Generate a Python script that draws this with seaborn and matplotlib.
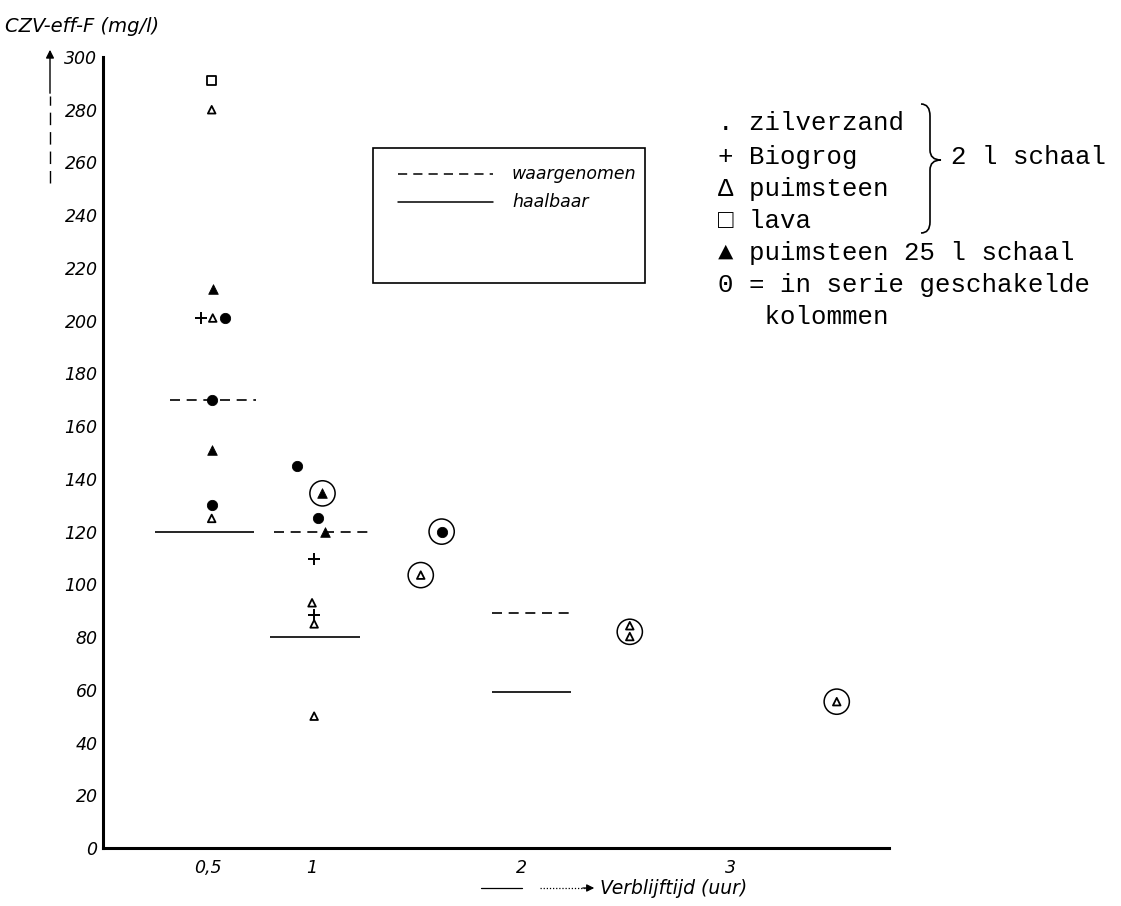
import matplotlib
matplotlib.use("Agg")
import matplotlib.pyplot as plt
import seaborn as sns
from matplotlib.lines import Line2D
from matplotlib.patches import Rectangle, PathPatch, FancyArrowPatch
from matplotlib.path import Path

# values (x = verblijftijd in uur, y = CZV mg/l)
zilverzand_x = [0.52, 0.585, 0.52, 0.93, 1.03, 1.62]
zilverzand_y = [170, 201, 130, 145, 125, 120]
biogrog_x = [0.47, 1.01, 1.01]
biogrog_y = [201, 109.5, 88.5]
puimsteen_x = [0.52, 0.525, 0.52, 1.0, 1.01, 1.01, 1.52, 2.52, 2.52, 3.51]
puimsteen_y = [280, 201, 125, 93, 85, 50, 103.5, 84.3, 80.2, 55.5]
lava_x = [0.52]
lava_y = [291]
puim25_x = [0.525, 0.52, 1.06, 1.05]
puim25_y = [212, 151, 120, 134.5]
serie_x = [1.05, 1.62, 1.52, 2.52, 3.51]
serie_y = [134.5, 120, 103.5, 82, 55.5]

# horizontal level lines
waargenomen_y = [170, 120, 89]
waargenomen_x0 = [0.32, 0.82, 1.86]
waargenomen_x1 = [0.73, 1.27, 2.24]
haalbaar_y = [120, 80, 59]
haalbaar_x0 = [0.25, 0.80, 1.86]
haalbaar_x1 = [0.72, 1.23, 2.24]

x_ticks = [0.5, 1, 2, 3]
x_ticklabels = ["0,5", "1", "2", "3"]
y_ticks = list(range(0, 301, 20))

sns.set_style("white")
plt.rcParams["font.family"] = ["DejaVu Sans"]
plt.rcParams["text.color"] = "black"

W, H = 1121, 906
fig = plt.figure(figsize=(W / 100, H / 100), dpi=100)


def fx(px):
    return px / W


def fy(py):
    return 1 - py / H


ax = fig.add_axes([fx(103), fy(848), fx(889) - fx(103), fy(57) - fy(848)])

# level lines
ax.hlines(waargenomen_y, waargenomen_x0, waargenomen_x1, colors="black",
          linestyles=(0, (6, 4)), linewidth=1.2)
ax.hlines(haalbaar_y, haalbaar_x0, haalbaar_x1, colors="black",
          linestyles="solid", linewidth=1.2)

# points
sns.scatterplot(x=zilverzand_x, y=zilverzand_y, marker="o", s=55,
                color="black", edgecolor="black", ax=ax)
sns.scatterplot(x=biogrog_x, y=biogrog_y, marker="+", s=70,
                color="black", linewidth=1.4, ax=ax)
sns.scatterplot(x=puimsteen_x, y=puimsteen_y, marker="^", s=30,
                facecolor="none", edgecolor="black", linewidth=1.3, ax=ax)
sns.scatterplot(x=lava_x, y=lava_y, marker="s", s=38,
                facecolor="none", edgecolor="black", linewidth=1.3, ax=ax)
sns.scatterplot(x=puim25_x, y=puim25_y, marker="^", s=48,
                color="black", edgecolor="black", ax=ax)
sns.scatterplot(x=serie_x, y=serie_y, marker="o", s=330,
                facecolor="none", edgecolor="black", linewidth=1.1, ax=ax)

ax.set_xlim(0, 3.76)
ax.set_ylim(0, 300)
ax.set_xticks(x_ticks)
ax.set_xticklabels(x_ticklabels, fontstyle="italic", fontsize=12.5)
ax.set_yticks(y_ticks)
ax.set_yticklabels([str(v) for v in y_ticks], fontstyle="italic", fontsize=12.5)
ax.tick_params(direction="in", length=8, width=1.3, colors="black", pad=4)
ax.tick_params(axis="x", pad=8)
for side in ["top", "right"]:
    ax.spines[side].set_visible(False)
for side in ["left", "bottom"]:
    ax.spines[side].set_color("black")
    ax.spines[side].set_linewidth(2.2)
ax.set_xlabel("")
ax.set_ylabel("")
ax.patch.set_alpha(0)

# y axis title and arrow
fig.text(fx(5), fy(27), "CZV-eff-F (mg/l)", fontstyle="italic", fontsize=14,
         va="center", ha="left")
fig.add_artist(Line2D([fx(50), fx(50)], [fy(183), fy(96)], color="black",
                      linewidth=1, linestyle=(0, (9, 5))))
fig.add_artist(FancyArrowPatch((fx(50), fy(96)), (fx(50), fy(47)),
                               transform=fig.transFigure, arrowstyle="-|>",
                               mutation_scale=12, color="black", linewidth=1))

# x axis title and arrow
fig.add_artist(Line2D([fx(481), fx(522)], [fy(888), fy(888)], color="black",
                      linewidth=0.9))
fig.add_artist(Line2D([fx(540), fx(585)], [fy(888), fy(888)], color="black",
                      linewidth=0.9, linestyle=(0, (1, 1.5))))
fig.add_artist(FancyArrowPatch((fx(580), fy(888)), (fx(597), fy(888)),
                               transform=fig.transFigure, arrowstyle="-|>",
                               mutation_scale=11, color="black", linewidth=0.9))
fig.text(fx(600), fy(888), "Verblijftijd (uur)", fontstyle="italic",
         fontsize=13.5, va="center", ha="left")

# line legend box
fig.add_artist(Rectangle((fx(373), fy(283)), fx(645) - fx(373), fy(148) - fy(283),
                         transform=fig.transFigure, facecolor="none",
                         edgecolor="black", linewidth=1.2))
fig.add_artist(Line2D([fx(398), fx(493)], [fy(174), fy(174)], color="black",
                      linewidth=1.1, linestyle=(0, (6, 4))))
fig.add_artist(Line2D([fx(398), fx(493)], [fy(202), fy(202)], color="black",
                      linewidth=1.1))
fig.text(fx(512), fy(174), "waargenomen", fontstyle="italic", fontsize=12.5,
         va="center", ha="left")
fig.text(fx(512), fy(202), "haalbaar", fontstyle="italic", fontsize=12.5,
         va="center", ha="left")

# symbol legend (typewriter text)
mono = ["Liberation Mono", "DejaVu Sans Mono"]
legend_lines = [
    ". zilverzand",
    "+ Biogrog",
    "\u0394 puimsteen",
    "\u25a1 lava",
    "\u25b2 puimsteen 25 l schaal",
    "0 = in serie geschakelde",
    "   kolommen",
]
legend_rows = [123, 157, 189, 221, 253, 285, 317]
for txt, row in zip(legend_lines, legend_rows):
    fig.text(fx(718), fy(row), txt, family=mono, fontsize=18.5,
             va="center", ha="left")
fig.text(fx(951), fy(157), "2 l schaal", family=mono, fontsize=18.5,
         va="center", ha="left")

# curly brace
bx, tip = 930, 941
pts = [(fx(921), fy(104)), (fx(bx), fy(104)), (fx(bx), fy(116)),
       (fx(bx), fy(150)),
       (fx(bx), fy(160)), (fx(tip), fy(160)),
       (fx(bx), fy(160)), (fx(bx), fy(170)),
       (fx(bx), fy(222)),
       (fx(bx), fy(233)), (fx(921), fy(233))]
codes = [Path.MOVETO, Path.CURVE3, Path.CURVE3, Path.LINETO,
         Path.CURVE3, Path.CURVE3, Path.CURVE3, Path.CURVE3,
         Path.LINETO, Path.CURVE3, Path.CURVE3]
fig.add_artist(PathPatch(Path(pts, codes), transform=fig.transFigure,
                         facecolor="none", edgecolor="black", linewidth=1.2))

fig.savefig("out.png", dpi=100)
